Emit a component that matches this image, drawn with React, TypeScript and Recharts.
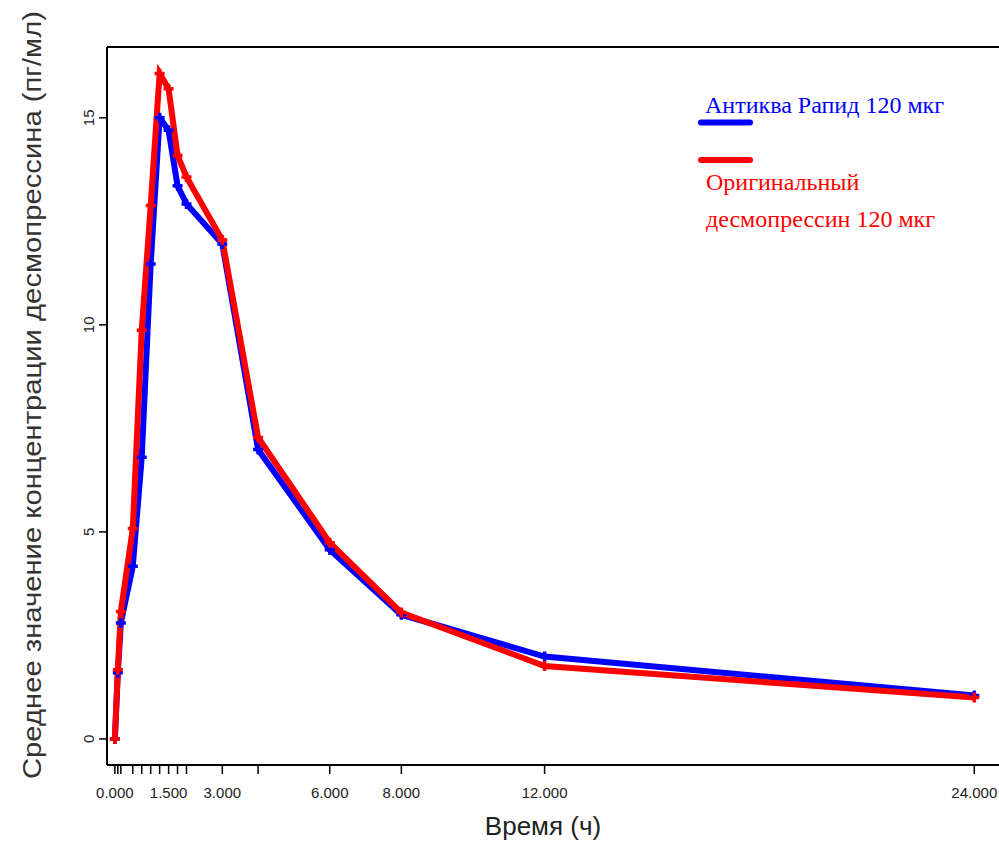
import React from 'react';
import { LineChart, Line, XAxis, YAxis, Legend, ReferenceLine } from 'recharts';

// Time points (hours)
const times = [0, 0.083, 0.167, 0.5, 0.75, 1, 1.25, 1.5, 1.75, 2, 3, 4, 6, 8, 12, 24];
// Mean desmopressin concentration (pg/ml)
const antikvaValues = [0, 1.6, 2.8, 4.17, 6.8, 11.47, 15.0, 14.7, 13.36, 12.92, 11.95, 6.99, 4.57, 3.0, 1.99, 1.05];
const originalValues = [0, 1.67, 3.08, 5.08, 9.87, 12.88, 16.07, 15.7, 14.09, 13.57, 12.05, 7.28, 4.74, 3.05, 1.76, 1.0];

const xLabeledTicks = [0, 1.5, 3, 6, 8, 12, 24];
const yTicks = [0, 5, 10, 15];
const seriesNames = ['Антиква Рапид 120 мкг', 'Оригинальный десмопрессин 120 мкг'];
const xTitle = 'Время (ч)';
const yTitle = 'Среднее значение концентрации десмопрессина (пг/мл)';

const X_DOMAIN: [number, number] = [-0.22, 24.69];
const Y_DOMAIN: [number, number] = [-0.63, 16.71];

const BLUE = '#0000FF';
const RED = '#FF0000';

const data = times.map((t, i) => ({ t, antikva: antikvaValues[i], original: originalValues[i] }));

const PlusDot = (props: any) => {
  const { cx, cy, stroke } = props;
  if (cx == null || cy == null) return null;
  const s = 5;
  return (
    <path
      d={`M${cx - s},${cy}L${cx + s},${cy}M${cx},${cy - s}L${cx},${cy + s}`}
      stroke={stroke}
      strokeWidth={3.5}
      fill="none"
    />
  );
};

const XTick = (props: any) => {
  const { x, y, payload } = props;
  if (!xLabeledTicks.includes(payload.value)) return null;
  return (
    <text x={x} y={y} dy={22} textAnchor="middle" fontFamily="'Liberation Sans', Arial, sans-serif" fontSize={15} fill="#222">
      {Number(payload.value).toFixed(3)}
    </text>
  );
};

const YTick = (props: any) => {
  const { x, y, payload } = props;
  const tx = x - 3;
  return (
    <text x={tx} y={y} transform={`rotate(-90, ${tx}, ${y})`} textAnchor="middle" fontFamily="'Liberation Sans', Arial, sans-serif" fontSize={15} fill="#222">
      {payload.value}
    </text>
  );
};

const XTitle = (props: any) => {
  const { viewBox } = props;
  const cx = viewBox.x + viewBox.width / 2 - 10;
  return (
    <text x={cx} y={viewBox.y + 70} textAnchor="middle" fontFamily="'Liberation Sans', Arial, sans-serif" fontSize={26} fill="#222">
      {xTitle}
    </text>
  );
};

const YTitle = () => {
  const cy = 395;
  const tx = 41;
  return (
    <text
      x={tx}
      y={cy}
      transform={`rotate(-90, ${tx}, ${cy})`}
      textAnchor="middle"
      fontFamily="'Liberation Sans', Arial, sans-serif"
      fontSize={26}
      textLength={768}
      lengthAdjust="spacingAndGlyphs"
      fill="#333"
    >
      {yTitle}
    </text>
  );
};

const LegendContent = () => (
  <svg width={300} height={160} style={{ overflow: 'visible' }}>
    <text x={15} y={28} fontFamily="'Liberation Serif', 'Times New Roman', serif" fontSize={24} fill={BLUE}>
      {seriesNames[0]}
    </text>
    <line x1={11} y1={37.5} x2={60} y2={37.5} stroke={BLUE} strokeWidth={6} strokeLinecap="round" />
    <line x1={11} y1={75} x2={60} y2={75} stroke={RED} strokeWidth={6} strokeLinecap="round" />
    <text x={16} y={105} fontFamily="'Liberation Serif', 'Times New Roman', serif" fontSize={24} fill={RED}>
      Оригинальный
    </text>
    <text x={16} y={142} fontFamily="'Liberation Serif', 'Times New Roman', serif" fontSize={24} fill={RED}>
      десмопрессин 120 мкг
    </text>
  </svg>
);

export default function App() {
  return (
    <div style={{ position: 'absolute', left: 0, top: 0, width: 999, height: 844, background: '#fff' }}>
      <LineChart width={999} height={844} data={data} margin={{ top: 47, right: 0, bottom: 0, left: 0 }}>
        <XAxis
          dataKey="t"
          type="number"
          domain={X_DOMAIN}
          allowDataOverflow
          ticks={times}
          interval={0}
          height={79}
          tickSize={9}
          tick={<XTick />}
          tickLine={{ stroke: '#000', strokeWidth: 1.5 }}
          axisLine={{ stroke: '#000', strokeWidth: 2 }}
          label={<XTitle />}
        />
        <YAxis
          type="number"
          domain={Y_DOMAIN}
          allowDataOverflow
          ticks={yTicks}
          interval={0}
          width={107}
          tickSize={8}
          tick={<YTick />}
          tickLine={{ stroke: '#000', strokeWidth: 1.5 }}
          axisLine={{ stroke: '#000', strokeWidth: 2 }}
          label={<YTitle />}
        />
        <ReferenceLine y={Y_DOMAIN[1]} stroke="#000" strokeWidth={2} ifOverflow="visible" />
        <Legend
          verticalAlign="middle"
          layout="horizontal"
          wrapperStyle={{ position: 'absolute', left: 690, top: 85, width: 300, height: 160 }}
          content={<LegendContent />}
        />
        <Line
          dataKey="antikva"
          name={seriesNames[0]}
          stroke={BLUE}
          strokeWidth={6}
          dot={<PlusDot />}
          activeDot={false}
          isAnimationActive={false}
        />
        <Line
          dataKey="original"
          name={seriesNames[1]}
          stroke={RED}
          strokeWidth={6}
          dot={<PlusDot />}
          activeDot={false}
          isAnimationActive={false}
        />
      </LineChart>
    </div>
  );
}
